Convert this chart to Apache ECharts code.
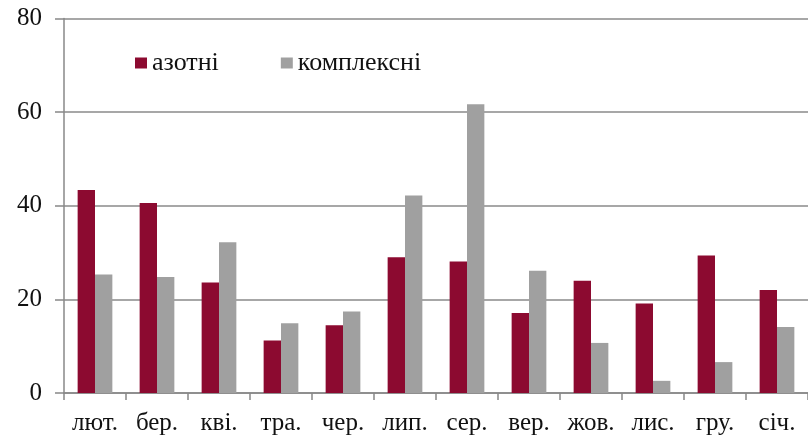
<!DOCTYPE html>
<html>
<head>
<meta charset="utf-8">
<script src="https://cdn.jsdelivr.net/npm/echarts@6/dist/echarts.min.js"></script>
<style>
html, body { margin: 0; padding: 0; background: #fff; }
#main { width: 808px; height: 436px; }
</style>
</head>
<body>
<div id="main"></div>
<script>
var months = ['лют.', 'бер.', 'кві.', 'тра.', 'чер.', 'лип.', 'сер.', 'вер.', 'жов.', 'лис.', 'гру.', 'січ.'];
var azotni = [43.4, 40.6, 23.6, 11.2, 14.5, 29.0, 28.1, 17.1, 24.0, 19.1, 29.4, 22.0];
var kompleksni = [25.3, 24.8, 32.2, 14.9, 17.4, 42.2, 61.7, 26.1, 10.7, 2.6, 6.6, 14.1];
var yTicks = [0, 20, 40, 60, 80];

var font = 'Liberation Serif';
var chart = echarts.init(document.getElementById('main'), null, {renderer: 'canvas'});
var option = {
  animation: false,
  color: ['#8c0a30', '#a0a0a0'],
  grid: {left: 64, right: -4, top: 18.6, bottom: 42.7, containLabel: false},
  legend: {
    data: ['азотні', 'комплексні'],
    left: 135,
    top: 50,
    padding: 0,
    icon: 'rect',
    itemWidth: 12,
    itemHeight: 11,
    itemGap: 62,
    textStyle: {fontFamily: font, fontSize: 26, color: '#111'}
  },
  xAxis: {
    type: 'category',
    data: months,
    axisLine: {lineStyle: {color: '#888', width: 1.5}},
    axisTick: {show: true, length: 7, lineStyle: {color: '#888', width: 1.5}},
    axisLabel: {fontFamily: font, fontSize: 25, color: '#111', margin: 18}
  },
  yAxis: {
    type: 'value',
    min: yTicks[0],
    max: yTicks[yTicks.length - 1],
    interval: 20,
    axisLine: {show: true, lineStyle: {color: '#888', width: 1.5}},
    axisTick: {show: true, length: 9, lineStyle: {color: '#888', width: 1.5}},
    axisLabel: {fontFamily: font, fontSize: 25, color: '#111', margin: 22},
    splitLine: {lineStyle: {color: '#8a8a8a', width: 1.5}}
  },
  series: [
    {name: 'азотні', type: 'bar', data: azotni, barGap: '0%', barCategoryGap: '44%'},
    {name: 'комплексні', type: 'bar', data: kompleksni, barGap: '0%', barCategoryGap: '44%'}
  ]
};
chart.setOption(option);
</script>
</body>
</html>
